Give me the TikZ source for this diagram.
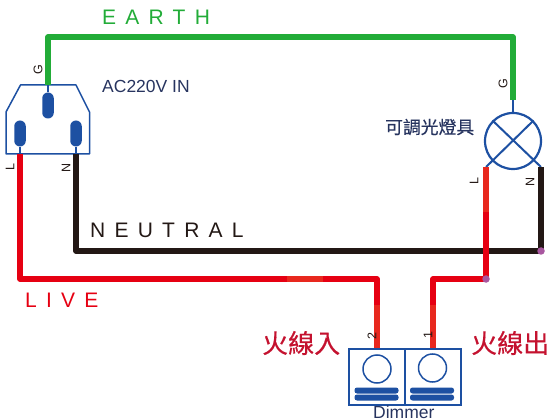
\documentclass[tikz,border=0pt]{standalone}
\usepackage{fontspec}
\setmainfont{Liberation Sans}
\newfontfamily\cjk[FakeBold=0.4]{Noto Sans CJK TC}
\definecolor{earth-green}{HTML}{22AC38}
\definecolor{live-red}{HTML}{E60012}
\definecolor{live-light}{HTML}{E8281E}
\definecolor{neutral-black}{HTML}{231815}
\definecolor{part-blue}{HTML}{1D50A2}
\definecolor{joint-purple}{HTML}{A8569F}
\definecolor{label-navy}{HTML}{27345F}
\definecolor{label-red}{HTML}{C4122F}
\tikzset{
    wire/.style = {line width=5.6pt, line join=round},
    stem/.style = {draw=part-blue, line width=2pt},
    pin/.style = {fill=part-blue, rectangle, rounded corners=5.7pt, minimum width=11.5pt, minimum height=26pt, inner sep=0pt},
    bar/.style = {fill=part-blue, rectangle, rounded corners=2.5pt, minimum width=44pt, minimum height=6pt, inner sep=0pt},
    dimmer-cell/.style = {draw=part-blue, line width=1.5pt, rectangle, minimum width=56pt, minimum height=56pt, inner sep=0pt},
    dimmer-knob/.style = {draw=part-blue, line width=1.5pt, circle, minimum size=28pt, inner sep=0pt},
    joint/.style = {fill=joint-purple, circle, minimum size=7.5pt, inner sep=0pt},
    tag/.style = {rotate=90, font=\fontsize{12.5}{12.5}\selectfont, text=neutral-black, inner sep=0pt},
    wire-name/.style = {font=\fontsize{21}{21}\selectfont\addfontfeature{LetterSpace=44}, inner sep=0pt, anchor=west},
    part-name/.style = {font=\fontsize{17.5}{17.5}\selectfont, text=label-navy, inner sep=0pt},
    cjk-name/.style = {font=\cjk\fontsize{26}{26}\selectfont, text=label-red, inner sep=0pt},
}

\begin{document}
\begin{tikzpicture}[x=1pt, y=-1pt]
\useasboundingbox (0,0) rectangle (548,419);

% terminals and corners
\coordinate (socket-g) at (48,85);
\coordinate (socket-l) at (20,154);
\coordinate (socket-n) at (76,154);
\coordinate (earth-left) at (48,37);
\coordinate (earth-right) at (513,37);
\coordinate (earth-end) at (513,100);
\coordinate (lamp-l) at (486,167);
\coordinate (lamp-n) at (541,167);
\coordinate (neutral-corner) at (76,251);
\coordinate (live-corner) at (20,279);
\coordinate (live-in-corner) at (377,279);
\coordinate (live-out-corner) at (433,279);
\coordinate (live-mid-a) at (287,279);
\coordinate (live-mid-b) at (323,279);
\coordinate (lamp-l-mid) at (486,212);
\coordinate (in-mid) at (377,305);
\coordinate (out-mid) at (433,305);

% socket
\draw[part-blue, line width=1.5pt, line join=round] (6,154) -- (6,112) -- (20.5,85) -- (76,85) -- (89.5,112) -- (89.5,154) -- cycle;
\node[pin] (pin-g) at (48,105.5) {};
\node[pin] (pin-l) at (20,133.5) {};
\node[pin] (pin-n) at (76,133.5) {};
\draw[stem] (socket-g) -- (pin-g);
\draw[stem] (socket-l) -- (pin-l);
\draw[stem] (socket-n) -- (pin-n);

% lamp
\node[draw=part-blue, line width=2.2pt, circle, minimum size=56pt, inner sep=0pt] (lamp) at (513,141) {};
\draw[stem] (lamp.north) -- (earth-end);
\draw[stem] (lamp.north east) -- (lamp-l);
\draw[stem] (lamp.north west) -- (lamp-n);

% dimmer
\node[dimmer-cell] (cell-in) at (377,377) {};
\node[dimmer-cell] (cell-out) at (433,377) {};
\node[dimmer-knob] (knob-in) at (377,369) {};
\node[dimmer-knob] (knob-out) at (432.5,368) {};
\node[bar] (bar-in-a) at (376.5,390.5) {};
\node[bar] (bar-in-b) at (376.5,397.5) {};
\node[bar] (bar-out-a) at (432,390.5) {};
\node[bar] (bar-out-b) at (432,397.5) {};

% wires
\draw[wire, earth-green] (socket-g) -- (earth-left) -- (earth-right) -- (earth-end);
\draw[wire, neutral-black] (socket-n) -- (neutral-corner) -- (lamp-n |- neutral-corner) -- (lamp-n);
\draw[wire, live-red] (socket-l) -- (live-corner) -- (live-in-corner) -- (cell-in.north);
\draw[wire, live-red] (lamp-l) -- (lamp-l |- live-corner) -- (live-out-corner) -- (cell-out.north);
\draw[wire, live-light] (lamp-l) -- (lamp-l-mid);
\draw[wire, live-light] (live-mid-a) -- (live-mid-b);
\draw[wire, live-light] (in-mid) -- (cell-in.north);
\draw[wire, live-light] (out-mid) -- (cell-out.north);
\node[joint] (joint-n) at (lamp-n |- neutral-corner) {};
\node[joint] (joint-l) at (lamp-l |- live-corner) {};

% labels
\node[wire-name, text=earth-green] (earth-name) at (102,17) {EARTH};
\node[wire-name, text=neutral-black] (neutral-name) at (90,230) {NEUTRAL};
\node[wire-name, text=live-red] (live-name) at (25,300) {LIVE};
\node[part-name, anchor=west] (socket-name) at (102,86) {AC220V IN};
\node[part-name, anchor=base west] (dimmer-name) at (373,418.5) {Dimmer};
\node[part-name, anchor=west, font=\cjk\fontsize{17.8}{17.8}\selectfont] (lamp-name) at (385,127) {可調光燈具};
\node[cjk-name, anchor=west] (in-name) at (262,343) {火線入};
\node[cjk-name, anchor=west] (out-name) at (471,343) {火線出};
\node[tag] (tag-socket-g) at (38,70) {G};
\node[tag] (tag-socket-l) at (10,167) {L};
\node[tag] (tag-socket-n) at (66,168) {N};
\node[tag] (tag-lamp-g) at (503,84) {G};
\node[tag] (tag-lamp-l) at (474,181) {L};
\node[tag] (tag-lamp-n) at (530,182) {N};
\node[tag] (tag-in) at (372,336) {2};
\node[tag] (tag-out) at (428,335) {1};
\end{tikzpicture}
\end{document}
